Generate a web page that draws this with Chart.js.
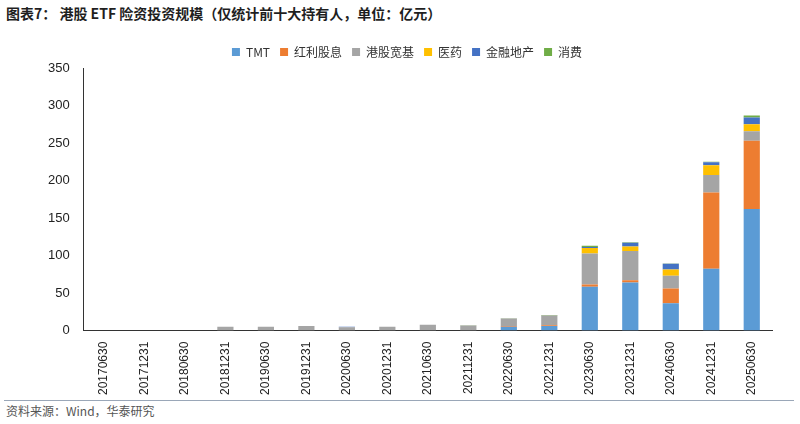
<!DOCTYPE html>
<html>
<head>
<meta charset="utf-8">
<script src="https://cdn.jsdelivr.net/npm/chart.js@4"></script>
<style>
  body { margin: 0; width: 800px; height: 424px; background: #fff; font-family: "Noto Sans CJK SC", sans-serif; position: relative; overflow: hidden; }
  #title { position: absolute; left: 6px; top: 3px; font-size: 14px; font-weight: bold; color: #1f1f1f; }
  #wrap { position: absolute; left: 0; top: 36px; width: 800px; height: 362px; }
  #line { position: absolute; left: 4px; right: 6px; top: 400px; border-top: 1px solid #9aa7b8; }
  #src { position: absolute; left: 6px; top: 402px; font-size: 12px; color: #555; }
</style>
</head>
<body>
<div id="title">图表7： 港股 ETF 险资投资规模（仅统计前十大持有人，单位：亿元）</div>
<div id="wrap"><canvas id="chart" width="800" height="362"></canvas></div>
<div id="line"></div>
<div id="src">资料来源：Wind，华泰研究</div>
<script>
const categories = ["20170630","20171231","20180630","20181231","20190630","20191231","20200630","20201231","20210630","20211231","20220630","20221231","20230630","20231231","20240630","20241231","20250630"];
const seriesNames = ["TMT", "红利股息", "港股宽基", "医药", "金融地产", "消费"];
const tmt      = [0, 0, 0, 0, 0, 0, 0, 0, 0, 0.3, 5, 6, 58.3, 64, 36.6, 82.6, 162];
const dividend = [0, 0, 0, 0, 0, 0, 0, 0, 0, 0, 1, 1, 3, 3, 19.4, 101.4, 91];
const broad    = [0, 0, 0, 5, 5, 6, 4.5, 5, 7.7, 6.5, 10, 13.2, 41.5, 39, 17, 23.5, 12.6];
const pharma   = [0, 0, 0, 0, 0, 0, 0, 0, 0, 0, 0, 0, 7.2, 6, 8.6, 13, 9.4];
const finance  = [0, 0, 0, 0, 0, 0, 0.5, 0, 0, 0, 0, 0, 1.5, 5, 7.4, 4, 9];
const consumer = [0, 0, 0, 0, 0, 0, 0, 0, 0, 0.5, 0.5, 0.5, 1.5, 0.7, 0.3, 0.5, 2.6];
const yTicks = [0, 50, 100, 150, 200, 250, 300, 350];

const colors = ["#5B9BD5", "#ED7D31", "#A5A5A5", "#FFC000", "#4472C4", "#70AD47"];
const values = [tmt, dividend, broad, pharma, finance, consumer];

new Chart(document.getElementById("chart").getContext("2d"), {
  type: "bar",
  data: {
    labels: categories,
    datasets: seriesNames.map((name, i) => ({
      label: name,
      data: values[i],
      backgroundColor: colors[i],
      borderWidth: 0,
      categoryPercentage: 0.8,
      barPercentage: 0.5,
    })),
  },
  options: {
    responsive: false,
    animation: false,
    layout: { padding: { left: 42, right: 28, top: 0 } },
    plugins: {
      legend: {
        position: "top",
        labels: { boxWidth: 8, boxHeight: 8, padding: 10, color: "#333", font: { size: 12, family: "Noto Sans CJK SC" } },
      },
      tooltip: { enabled: false },
    },
    scales: {
      x: {
        stacked: true,
        grid: { display: false },
        border: { color: "#333" },
        ticks: { autoSkip: false, maxRotation: 90, minRotation: 90, color: "#222", font: { size: 12, family: "Liberation Sans" } },
      },
      y: {
        stacked: true,
        min: 0,
        max: 350,
        afterBuildTicks: (axis) => { axis.ticks = yTicks.map((v) => ({ value: v })); },
        grid: { display: false },
        border: { color: "#333" },
        ticks: { color: "#222", padding: 6, font: { size: 13, family: "Liberation Sans" } },
      },
    },
  },
});
</script>
</body>
</html>
